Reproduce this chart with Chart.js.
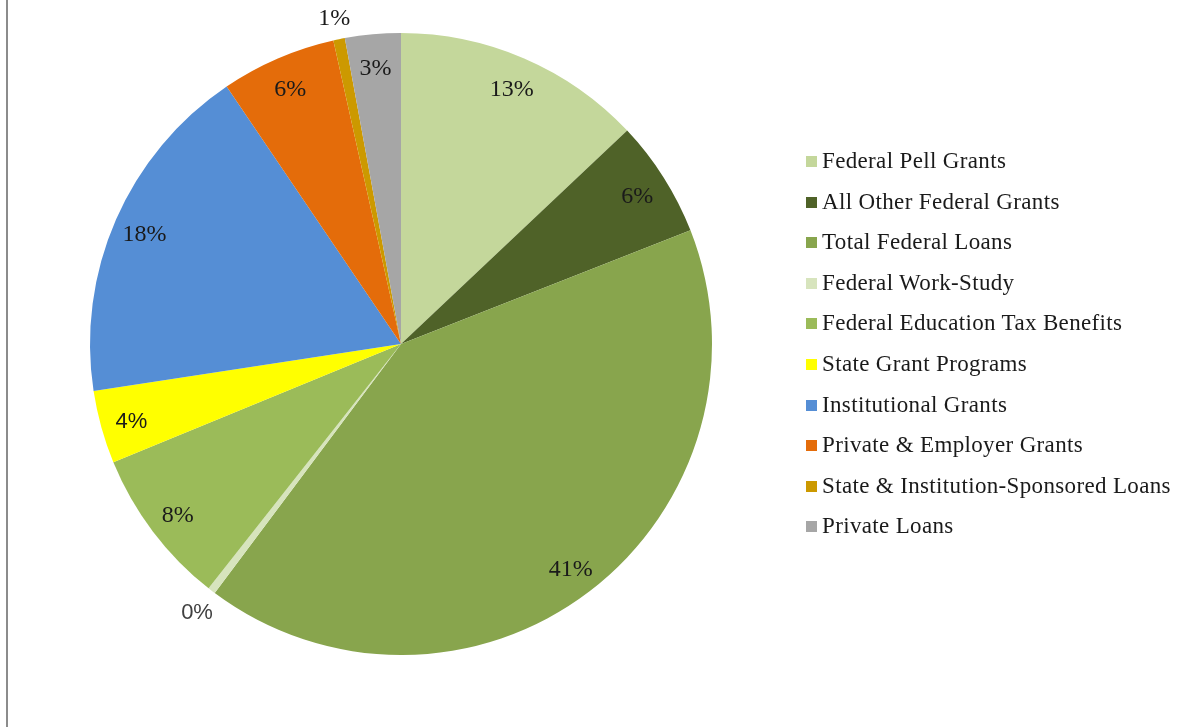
<!DOCTYPE html>
<html>
<head>
<meta charset="utf-8">
<script src="https://cdn.jsdelivr.net/npm/chart.js@4"></script>
<style>
  html, body { margin: 0; padding: 0; background: #fff; }
  #wrap { position: relative; width: 1189px; height: 727px; overflow: hidden; }
  #leftRule { position: absolute; left: 6px; top: 0; width: 2px; height: 727px; background: #8c8c8c; }
  #legend { position: absolute; left: 806px; top: 141px; margin: 0; padding: 0; list-style: none;
    font-family: "Liberation Serif", "Times New Roman", serif; font-size: 23px; letter-spacing: 0.35px; color: #1a1a1a; }
  #legend li { height: 40.6px; line-height: 40px; white-space: nowrap; }
  #legend .box { display: inline-block; width: 11px; height: 11px; margin-right: 5px; vertical-align: 1px; }
</style>
</head>
<body>
<div id="wrap">
  <canvas id="pie" width="1189" height="727"></canvas>
  <div id="leftRule"></div>
  <ul id="legend"></ul>
</div>
<script>
const categories = [
  "Federal Pell Grants",
  "All Other Federal Grants",
  "Total Federal Loans",
  "Federal Work-Study",
  "Federal Education Tax Benefits",
  "State Grant Programs",
  "Institutional Grants",
  "Private & Employer Grants",
  "State & Institution-Sponsored Loans",
  "Private Loans"
];
const shares = [13.0, 6.1, 41.3, 0.4, 8.2, 3.8, 18.0, 6.0, 0.6, 2.9];
const colors = ["#c4d79b", "#4f6228", "#88a54d", "#d7e4bd", "#9bbb59", "#ffff00", "#558ed5", "#e46c0a", "#cc9900", "#a6a6a6"];
// two of the labels in the original are set in a sans face
const sansLabels = [3, 5];

// Percent labels drawn on top of each arc
const pctLabels = {
  id: "pctLabels",
  afterDatasetsDraw(chart) {
    const ctx = chart.ctx;
    const meta = chart.getDatasetMeta(0);
    const total = shares.reduce((a, b) => a + b, 0);
    ctx.save();
    ctx.textAlign = "center";
    ctx.textBaseline = "middle";
    meta.data.forEach((arc, i) => {
      const pct = Math.round(shares[i] / total * 100);
      const mid = (arc.startAngle + arc.endAngle) / 2;
      const r = shares[i] < 1 ? arc.outerRadius + 24 : arc.outerRadius * 0.9;
      const x = arc.x + Math.cos(mid) * r;
      const y = arc.y + Math.sin(mid) * r + 3;
      if (sansLabels.includes(i)) {
        ctx.font = "22px 'Liberation Sans', Arial, sans-serif";
        ctx.fillStyle = i === 3 ? "#404040" : "#1a1a1a";
      } else {
        ctx.font = "24px 'Liberation Serif', 'Times New Roman', serif";
        ctx.fillStyle = "#1a1a1a";
      }
      ctx.fillText(pct + "%", x, y);
    });
    ctx.restore();
  }
};

new Chart(document.getElementById("pie"), {
  type: "pie",
  data: {
    labels: categories,
    datasets: [{
      data: shares,
      backgroundColor: colors,
      borderWidth: 0
    }]
  },
  options: {
    responsive: false,
    animation: false,
    layout: { padding: { left: 90, right: 477, top: 33, bottom: 72 } },
    plugins: {
      legend: { display: false },
      tooltip: { enabled: false }
    }
  },
  plugins: [pctLabels]
});

// Legend list on the right
document.getElementById("legend").innerHTML = categories.map((name, i) => `
  <li><span class="box" style="background:${colors[i]}"></span>${name.replace(/&/g, "&amp;")}</li>`).join("");
</script>
</body>
</html>
